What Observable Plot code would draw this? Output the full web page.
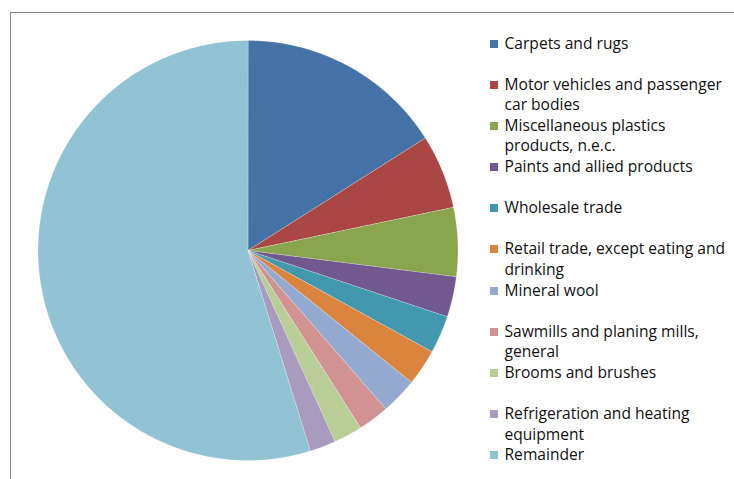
<!DOCTYPE html>
<html>
<head>
<meta charset="utf-8">
<script src="https://cdn.jsdelivr.net/npm/d3@7"></script>
<script src="https://cdn.jsdelivr.net/npm/@observablehq/plot@0.6"></script>
<style>
  html, body { margin: 0; padding: 0; background: #fff; }
  #wrap { position: relative; width: 734px; height: 479px; overflow: hidden; }
  #frame { position: absolute; left: 9.5px; top: 11.5px; width: 800px; height: 600px;
           border-left: 1.3px solid #868686; border-top: 1.3px solid #868686; pointer-events: none; }
  #chart { position: absolute; left: 0; top: 0; }
  #legend { position: absolute; left: 490px; top: 32.5px; font-family: "Open Sans", sans-serif;
            font-size: 15.6px; color: #111; }
  .item { position: relative; height: 41.2px; line-height: 20.6px; padding-left: 14.5px; white-space: nowrap; }
  .sw { position: absolute; left: 0; top: 7px; width: 8px; height: 8px; }
</style>
</head>
<body>
<div id="wrap">
  <div id="chart"></div>
  <div id="frame"></div>
  <div id="legend"></div>
</div>
<script>
const categories = [
  "Carpets and rugs",
  "Motor vehicles and passenger car bodies",
  "Miscellaneous plastics products, n.e.c.",
  "Paints and allied products",
  "Wholesale trade",
  "Retail trade, except eating and drinking",
  "Mineral wool",
  "Sawmills and planing mills, general",
  "Brooms and brushes",
  "Refrigeration and heating equipment",
  "Remainder"
];
const legendLines = [
  ["Carpets and rugs"],
  ["Motor vehicles and passenger", "car bodies"],
  ["Miscellaneous plastics", "products, n.e.c."],
  ["Paints and allied products"],
  ["Wholesale trade"],
  ["Retail trade, except eating and", "drinking"],
  ["Mineral wool"],
  ["Sawmills and planing mills,", "general"],
  ["Brooms and brushes"],
  ["Refrigeration and heating", "equipment"],
  ["Remainder"]
];
const values = [16.0, 5.7, 5.3, 3.1, 2.9, 2.8, 2.8, 2.4, 2.2, 2.0, 54.8];
const colors = ["#4572A7", "#AA4643", "#89A54E", "#71588F", "#4198AF", "#DB843D",
                "#93A9CF", "#D19392", "#B9CD96", "#A99BBD", "#92C3D5"];

// build slice outlines (angles clockwise from 12 o'clock)
const total = d3.sum(values);
const pts = [];
let start = 0;
categories.forEach((c, i) => {
  const span = values[i] / total * 2 * Math.PI;
  const end = start + span;
  pts.push({cat: c, x: 0, y: 0});
  const n = Math.max(2, Math.ceil(span / (Math.PI / 360)));
  for (let k = 0; k <= n; k++) {
    const a = start + span * k / n;
    pts.push({cat: c, x: Math.sin(a), y: Math.cos(a)});
  }
  start = end;
});

const plot = Plot.plot({
  width: 734,
  height: 479,
  margin: 0,
  style: {background: "transparent"},
  x: {domain: [-1, 1], range: [37.5, 457.5], axis: null},
  y: {domain: [-1, 1], range: [460, 40], axis: null},
  color: {domain: categories, range: colors},
  marks: [
    Plot.line(pts, {x: "x", y: "y", z: "cat", fill: "cat", stroke: "#ffffff",
                    strokeWidth: 0.5, strokeOpacity: 0.5, curve: "linear-closed"})
  ]
});
document.getElementById("chart").appendChild(plot);

const leg = document.getElementById("legend");
legendLines.forEach((lines, i) => {
  const it = document.createElement("div");
  it.className = "item";
  const sw = document.createElement("div");
  sw.className = "sw";
  sw.style.background = colors[i];
  it.appendChild(sw);
  lines.forEach(l => {
    const d = document.createElement("div");
    d.textContent = l;
    it.appendChild(d);
  });
  leg.appendChild(it);
});
</script>
</body>
</html>
